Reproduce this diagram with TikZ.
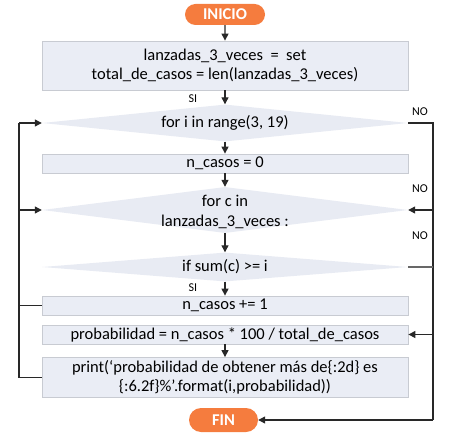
\documentclass[tikz,border=0pt]{standalone}
\usepackage{fontspec}
\setmainfont{Carlito}
\usetikzlibrary{shapes.geometric,shapes.misc,arrows.meta}
\definecolor{orng}{RGB}{245,124,62}
\definecolor{boxfill}{RGB}{234,237,245}
\definecolor{boxline}{RGB}{200,203,210}
\definecolor{dfill}{RGB}{232,235,243}
\definecolor{lin}{RGB}{40,40,40}
\begin{document}
\begin{tikzpicture}[x=1pt,y=-1pt,
  term/.style={rounded rectangle, fill=orng, text=white, font=\fontsize{16.5}{18}\selectfont\bfseries, inner sep=0pt},
  procbox/.style={rectangle, fill=boxfill, draw=boxline, line width=0.8pt, minimum width=366pt, inner sep=0pt, align=center, font=\fontsize{16.5}{19.5}\selectfont},
  decis/.style={diamond, fill=dfill, minimum width=366pt, inner sep=0pt},
  dtext/.style={align=center, font=\fontsize{16.5}{20}\selectfont, inner sep=0pt},
  small/.style={font=\fontsize{12}{13}\selectfont, inner sep=0pt},
  conn/.style={draw=lin, line width=1.2pt},
  arr/.style={conn, -{Triangle[length=7pt,width=7pt]}}
]
\useasboundingbox (0,0) rectangle (457,438);
\node[term, minimum width=80pt, minimum height=21pt] (ini) at (225,14.5) {INICIO};
\node[procbox, minimum height=49pt] (b1) at (225,65.5) {lanzadas\_3\_veces \ = \ set\\total\_de\_casos = len(lanzadas\_3\_veces)};
\node[decis, minimum height=37pt] (d1) at (225,123) {};
\node[dtext] (t1) at (225,123) {for i in range(3, 19)};
\node[procbox, minimum height=19pt] (b2) at (225,163.5) {n\_casos = 0};
\node[decis, minimum height=46pt] (d2) at (225,210) {};
\node[dtext] (t2) at (225,212) {for c in\\lanzadas\_3\_veces :};
\node[decis, minimum height=29pt] (d3) at (225,267) {};
\node[dtext] (t3) at (225,267) {if sum(c) >= i};
\node[procbox, minimum height=19pt] (b3) at (225,305.5) {n\_casos += 1};
\node[procbox, minimum height=19pt] (b4) at (225,334.5) {probabilidad = n\_casos * 100 / total\_de\_casos};
\node[procbox, minimum height=40pt] (b5) at (225,377.5) {print(‘probabilidad de obtener más de\{:2d\} es\\\{:6.2f\}\%'.format(i,probabilidad))};
\node[term, minimum width=69pt, minimum height=24pt] (fin) at (223.5,420) {FIN};
\coordinate (L1) at (19,123);
\coordinate (L2) at (19,210);
\coordinate (L3) at (19,305.5);
\coordinate (L4) at (19,377.5);
\coordinate (R1) at (433,123);
\coordinate (R2) at (433,210);
\coordinate (R3) at (433,267);
\coordinate (R4) at (433,334.5);
\coordinate (R5) at (433,420);
\draw[arr] (ini) -- (b1);
\draw[arr] (b1) -- (d1);
\draw[arr] (d1) -- (b2);
\draw[arr] (b2) -- (d2);
\draw[arr] (d2) -- (d3);
\draw[arr] (d3) -- (b3);
\draw[arr] (b4) -- (b5);
\draw[conn] (b5.west) -- (L4) -- (L1);
\draw[conn] (b3.west) -- (L3);
\draw[arr] (L1) -- (d1.west);
\draw[arr] (L2) -- (d2.west);
\draw[conn] (d1.east) -- (R1) -- (R5);
\draw[arr] (R2) -- (d2.east);
\draw[conn, draw=lin!70] (d3.east) -- (R3);
\draw[arr] (R4) -- (b4.east);
\draw[arr] (R5) -- (fin.east);
\node[small] (si1) at (193,99) {SI};
\node[small] (si2) at (193,288) {SI};
\node[small] (no1) at (420,112) {NO};
\node[small] (no2) at (420,189) {NO};
\node[small] (no3) at (420,236) {NO};
\end{tikzpicture}
\end{document}
